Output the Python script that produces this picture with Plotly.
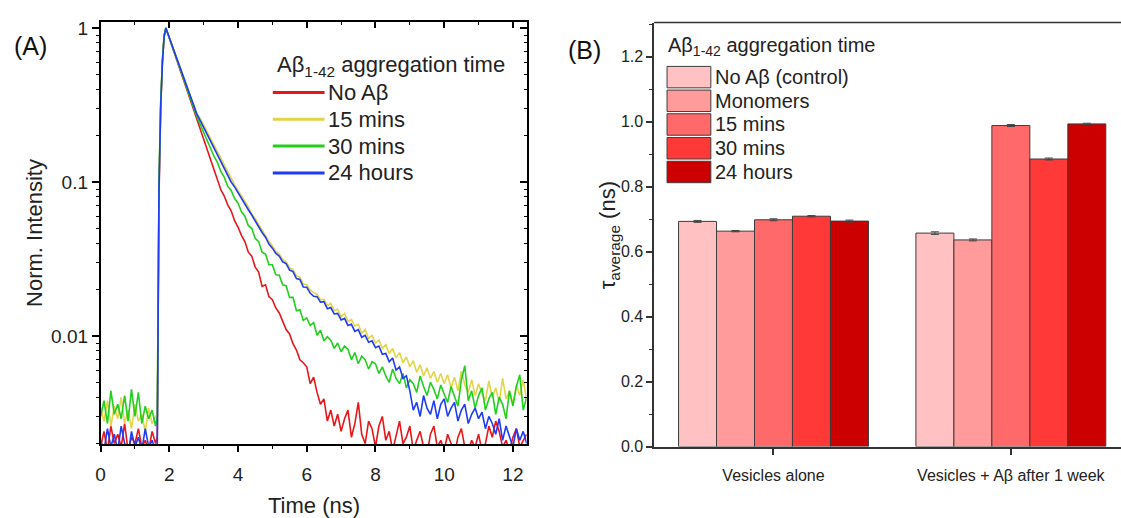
import plotly.graph_objects as go

W, H = 1121, 518

# ---------------- Panel A data ----------------
time_ns = [0.0, 0.1, 0.2, 0.3, 0.4, 0.5, 0.6, 0.7, 0.8, 0.9, 1.0, 1.1, 1.2, 1.3, 1.4, 1.5, 1.6,
           1.65, 1.7, 1.75, 1.8, 1.85, 1.9,
           2.0, 2.1, 2.2, 2.3, 2.4, 2.5, 2.6, 2.7, 2.8, 2.9,
           3.0, 3.1, 3.2, 3.3, 3.4, 3.5, 3.6, 3.7, 3.8, 3.9,
           4.0, 4.1, 4.2, 4.3, 4.4, 4.5, 4.6, 4.7, 4.8, 4.9,
           5.0, 5.1, 5.2, 5.3, 5.4, 5.5, 5.6, 5.7, 5.8, 5.9,
           6.0, 6.1, 6.2, 6.3, 6.4, 6.5, 6.6, 6.7, 6.8, 6.9,
           7.0, 7.1, 7.2, 7.3, 7.4, 7.5, 7.6, 7.7, 7.8, 7.9,
           8.0, 8.1, 8.2, 8.3, 8.4, 8.5, 8.6, 8.7, 8.8, 8.9,
           9.0, 9.1, 9.2, 9.3, 9.4, 9.5, 9.6, 9.7, 9.8, 9.9,
           10.0, 10.1, 10.2, 10.3, 10.4, 10.5, 10.6, 10.7, 10.8, 10.9,
           11.0, 11.1, 11.2, 11.3, 11.4, 11.5, 11.6, 11.7, 11.8, 11.9,
           12.0, 12.1, 12.2, 12.3, 12.4]

no_abeta = [0.0019, 0.0024, 0.0018, 0.0026, 0.0020, 0.0023, 0.0019, 0.0027, 0.0018, 0.0022, 0.0020, 0.0025, 0.0019, 0.0021, 0.0018, 0.0024, 0.0020,
            0.0022, 0.08, 0.3, 0.6, 0.88, 1.0,
            0.86, 0.74, 0.63, 0.545, 0.47, 0.40, 0.345, 0.295, 0.255, 0.22,
            0.188, 0.16, 0.14, 0.118, 0.103, 0.089, 0.081, 0.071, 0.065, 0.056,
            0.051, 0.045, 0.041, 0.035, 0.033, 0.028, 0.026, 0.021, 0.0215, 0.018,
            0.0172, 0.0152, 0.0141, 0.0126, 0.0110, 0.0103, 0.0089, 0.0081, 0.0070, 0.0067,
            0.0063, 0.0049, 0.0054, 0.0043, 0.0036, 0.0039, 0.0028, 0.0033, 0.0026, 0.0031,
            0.0024, 0.0029, 0.0033, 0.0022, 0.0027, 0.0037, 0.0023, 0.0020, 0.0028, 0.0025,
            0.0019, 0.0026, 0.0030, 0.0021, 0.0024, 0.0018, 0.0023, 0.0028, 0.0020, 0.0022,
            0.0026, 0.0018, 0.0021, 0.0024, 0.0019, 0.0017, 0.0023, 0.0026, 0.0019, 0.0021,
            0.0018, 0.0023, 0.0020, 0.0017, 0.0022, 0.0025, 0.0019, 0.0018, 0.0021, 0.0019,
            0.0023, 0.0018, 0.0020, 0.0026, 0.0022, 0.0028, 0.0024, 0.0019, 0.0021, 0.0018,
            0.0022, 0.0025, 0.0019, 0.0021, 0.0023]

mins_15 = [0.0034, 0.0028, 0.0038, 0.0026, 0.0035, 0.0029, 0.0040, 0.0027, 0.0033, 0.0025, 0.0036, 0.0028, 0.0031, 0.0024, 0.0034, 0.0027, 0.0030,
           0.0031, 0.1, 0.33, 0.62, 0.9, 1.0,
           0.865, 0.75, 0.65, 0.565, 0.49, 0.425, 0.368, 0.32, 0.278, 0.259,
           0.234, 0.211, 0.191, 0.173, 0.156, 0.141, 0.127, 0.115, 0.104, 0.096,
           0.088, 0.081, 0.074, 0.069, 0.062, 0.058, 0.053, 0.049, 0.045, 0.041,
           0.0385, 0.0355, 0.0340, 0.0314, 0.0303, 0.0278, 0.0270, 0.0246, 0.0240, 0.0217,
           0.0215, 0.0199, 0.0191, 0.0186, 0.0172, 0.0173, 0.0158, 0.0163, 0.0146, 0.0149,
           0.0133, 0.0140, 0.0124, 0.0128, 0.0116, 0.0119, 0.0104, 0.0110, 0.0096, 0.0101,
           0.0090, 0.0094, 0.0083, 0.0088, 0.0077, 0.0083, 0.0072, 0.0078, 0.0067, 0.0073,
           0.0063, 0.0069, 0.0058, 0.0065, 0.0055, 0.0062, 0.0053, 0.0059, 0.0050, 0.0057,
           0.0049, 0.0056, 0.0046, 0.0054, 0.0044, 0.0059, 0.0048, 0.0043, 0.0052, 0.0041,
           0.0049, 0.0042, 0.0038, 0.0051, 0.0040, 0.0046, 0.0037, 0.0053, 0.0039, 0.0044,
           0.0036, 0.0048, 0.0041, 0.0052, 0.0038]

mins_30 = [0.0030, 0.0038, 0.0027, 0.0044, 0.0031, 0.0036, 0.0029, 0.0041, 0.0028, 0.0045, 0.0030, 0.0043, 0.0027, 0.0035, 0.0029, 0.0033, 0.0026,
           0.0030, 0.1, 0.33, 0.62, 0.9, 1.0,
           0.86, 0.745, 0.64, 0.555, 0.48, 0.41, 0.356, 0.307, 0.266, 0.236,
           0.211, 0.186, 0.168, 0.147, 0.134, 0.117, 0.107, 0.094, 0.088, 0.078,
           0.073, 0.064, 0.060, 0.052, 0.050, 0.043, 0.041, 0.035, 0.034, 0.029,
           0.029, 0.025, 0.0248, 0.0215, 0.0212, 0.0178, 0.0178, 0.0146, 0.0148, 0.0126,
           0.0131, 0.0117, 0.0122, 0.0101, 0.0109, 0.0093, 0.0099, 0.0094, 0.0083, 0.0090,
           0.0079, 0.0086, 0.0082, 0.0070, 0.0078, 0.0066, 0.0074, 0.0070, 0.0061, 0.0068,
           0.0066, 0.0057, 0.0063, 0.0055, 0.0050, 0.0061, 0.0053, 0.0049, 0.0057, 0.0046,
           0.0052, 0.0049, 0.0043, 0.0055, 0.0047, 0.0041, 0.0050, 0.0045, 0.0039, 0.0048,
           0.0042, 0.0037, 0.0047, 0.0041, 0.0035, 0.0052, 0.0064, 0.0038, 0.0044, 0.0034,
           0.0041, 0.0046, 0.0033, 0.0039, 0.0043, 0.0031, 0.0040, 0.0036, 0.0029, 0.0044,
           0.0035, 0.0047, 0.0056, 0.0033, 0.0040]

hours_24 = [0.0021, 0.0018, 0.0025, 0.0019, 0.0023, 0.0018, 0.0026, 0.0020, 0.0017, 0.0024, 0.0019, 0.0022, 0.0018, 0.0025, 0.0019, 0.0021, 0.0018,
            0.0020, 0.09, 0.31, 0.6, 0.88, 1.0,
            0.867, 0.752, 0.652, 0.565, 0.49, 0.425, 0.368, 0.319, 0.277, 0.25,
            0.226, 0.204, 0.185, 0.167, 0.151, 0.136, 0.123, 0.111, 0.100, 0.093,
            0.085, 0.078, 0.072, 0.066, 0.061, 0.0555, 0.0515, 0.047, 0.0438, 0.0395,
            0.0372, 0.0344, 0.0330, 0.0303, 0.0295, 0.0268, 0.0262, 0.0236, 0.0233, 0.0208,
            0.0207, 0.0190, 0.0181, 0.0180, 0.0166, 0.0167, 0.0150, 0.0153, 0.0139, 0.0140,
            0.0127, 0.0130, 0.0117, 0.0119, 0.0107, 0.0110, 0.0098, 0.0101, 0.0091, 0.0093,
            0.0084, 0.0086, 0.0076, 0.0077, 0.0068, 0.0072, 0.0060, 0.0063, 0.0053, 0.0055,
            0.0044, 0.0033, 0.0037, 0.0030, 0.0041, 0.0034, 0.0031, 0.0038, 0.0029, 0.0036,
            0.0039, 0.0030, 0.0034, 0.0037, 0.0028, 0.0033, 0.0036, 0.0027, 0.0031, 0.0034,
            0.0029, 0.0032, 0.0025, 0.0030, 0.0027, 0.0023, 0.0029, 0.0021, 0.0026, 0.0022,
            0.0019, 0.0025, 0.0021, 0.0024, 0.0020]

decay_names = ["No Aβ", "15 mins", "30 mins", "24 hours"]
decay_colors = ["#E8161B", "#E2D548", "#22CF1E", "#1E3CF5"]

# ---------------- Panel B data ----------------
groups = ["Vesicles alone", "Vesicles + Aβ after 1 week"]
bar_names = ["No Aβ (control)", "Monomers", "15 mins", "30 mins", "24 hours"]
tau_no_abeta = [0.693, 0.657]
tau_monomers = [0.663, 0.636]
tau_15min = [0.698, 0.988]
tau_30min = [0.709, 0.885]
tau_24h = [0.694, 0.993]
err_no_abeta = [0.003, 0.004]
err_monomers = [0.002, 0.003]
err_15min = [0.003, 0.003]
err_30min = [0.002, 0.003]
err_24h = [0.003, 0.002]
bar_colors = ["#FFC1C1", "#FF9B9B", "#FF6969", "#FF3838", "#CC0000"]

FONT = "Liberation Sans, Arial, sans-serif"


def px(x):
    return x / W


def py(y):
    return 1 - y / H


fig = go.Figure()

for name, ys, c in zip(decay_names, [no_abeta, mins_15, mins_30, hours_24], decay_colors):
    fig.add_trace(go.Scatter(x=time_ns, y=ys, mode="lines", name=name,
                             line=dict(color=c, width=1.6), showlegend=False,
                             xaxis="x", yaxis="y"))

# invisible trace for mirrored (inward tick) axes
fig.add_trace(go.Scatter(x=[1], y=[0.5], mode="markers", marker=dict(opacity=0),
                         showlegend=False, hoverinfo="skip", xaxis="x3", yaxis="y3"))

bar_vals = [tau_no_abeta, tau_monomers, tau_15min, tau_30min, tau_24h]
bar_errs = [err_no_abeta, err_monomers, err_15min, err_30min, err_24h]
for name, vals, errs, c in zip(bar_names, bar_vals, bar_errs, bar_colors):
    fig.add_trace(go.Bar(x=groups, y=vals, name=name,
                         marker=dict(color=c, line=dict(color="#3c3c3c", width=1)),
                         error_y=dict(type="data", array=errs, color="#444444",
                                      thickness=1, width=4),
                         showlegend=False, xaxis="x2", yaxis="y2"))

xr = [0, 12.4]
yr = [-2.704, 0.04]
minor_log = [0.002, 0.003, 0.004, 0.005, 0.006, 0.007, 0.008, 0.009,
             0.02, 0.03, 0.04, 0.05, 0.06, 0.07, 0.08, 0.09,
             0.2, 0.3, 0.4, 0.5, 0.6, 0.7, 0.8, 0.9]

fig.update_layout(
    width=W, height=H,
    margin=dict(l=0, r=0, t=0, b=0),
    paper_bgcolor="white", plot_bgcolor="white",
    font=dict(family=FONT, color="#222222"),
    barmode="group", bargap=0.2, bargroupgap=0,
    xaxis=dict(domain=[px(96), px(524)], anchor="y", range=xr,
               showline=True, linecolor="black", linewidth=1.5,
               ticks="outside", ticklen=6, tickwidth=1.5, tickcolor="black",
               tick0=0, dtick=2, ticklabelstandoff=6,
               minor=dict(ticks="outside", ticklen=3, tickwidth=1.2, tickcolor="black", dtick=1, tick0=0),
               tickfont=dict(size=19, family=FONT, color="#222"),
               showgrid=False, zeroline=False),
    xaxis3=dict(overlaying="x", side="top", anchor="y3", range=xr,
                showline=True, linecolor="black", linewidth=1.5,
                ticks="inside", ticklen=6, tickwidth=1.5, tickcolor="black",
                tick0=0, dtick=2, showticklabels=False,
                minor=dict(ticks="inside", ticklen=3, tickwidth=1.2, tickcolor="black", dtick=1, tick0=0),
                showgrid=False, zeroline=False),
    yaxis=dict(domain=[py(451.7), py(18.3)], anchor="x", type="log", range=yr,
               showline=True, linecolor="black", linewidth=1.5,
               tickmode="array", tickvals=[0.01, 0.1, 1], ticktext=["0.01", "0.1", "1"],
               ticks="outside", ticklen=7, tickwidth=1.5, tickcolor="black",
               minor=dict(tickmode="array", tickvals=minor_log, ticks="outside",
                          ticklen=3, tickwidth=1.2, tickcolor="black"),
               tickfont=dict(size=19, family=FONT, color="#222"),
               showgrid=False, zeroline=False),
    yaxis3=dict(overlaying="y", side="right", anchor="x3", type="log", range=yr,
                showline=True, linecolor="black", linewidth=1.5,
                tickmode="array", tickvals=[0.01, 0.1, 1],
                ticks="inside", ticklen=7, tickwidth=1.5, tickcolor="black",
                minor=dict(tickmode="array", tickvals=minor_log, ticks="inside",
                           ticklen=3, tickwidth=1.2, tickcolor="black"),
                showticklabels=False, showgrid=False, zeroline=False),
    xaxis2=dict(domain=[px(652), 1.0], anchor="y2", range=[-0.503, 1.464],
                showline=True, linecolor="#333333", linewidth=1.5,
                ticks="outside", ticklen=7, tickwidth=1.5, tickcolor="#333333",
                ticklabelstandoff=6,
                tickfont=dict(size=16, family=FONT, color="#222"),
                showgrid=False, zeroline=False),
    yaxis2=dict(domain=[py(454), py(19)], anchor="x2", range=[0, 1.305],
                showline=True, linecolor="#333333", linewidth=1.5,
                tick0=0, dtick=0.2, tickformat=".1f",
                ticks="outside", ticklen=6, tickwidth=1.5, tickcolor="#333333",
                minor=dict(ticks="outside", ticklen=3, tickwidth=1.2, tickcolor="#333333", dtick=0.1, tick0=0),
                tickfont=dict(size=16, family=FONT, color="#222"),
                showgrid=False, zeroline=False),
)

shapes = []
annotations = []

# top frame line of panel B (right side is cut off by the image edge)
shapes.append(dict(type="line", xref="paper", yref="paper", x0=px(652), x1=1.0,
                   y0=py(19), y1=py(19), line=dict(color="#333333", width=1.5)))

# axis titles and panel labels
annotations.append(dict(text="Time (ns)", x=px(310), y=py(514), xref="paper", yref="paper",
                        showarrow=False, xanchor="center", yanchor="middle",
                        font=dict(size=22, family=FONT, color="#222")))
annotations.append(dict(text="Norm. Intensity", x=px(29), y=py(235), xref="paper", yref="paper",
                        textangle=-90, showarrow=False, xanchor="center", yanchor="middle",
                        font=dict(size=22, family=FONT, color="#222")))
annotations.append(dict(text="τ<sub>average</sub> (ns)", x=px(607), y=py(237), xref="paper", yref="paper",
                        textangle=-90, showarrow=False, xanchor="center", yanchor="middle",
                        font=dict(size=22, family=FONT, color="#222")))
annotations.append(dict(text="(A)", x=px(26), y=py(43), xref="paper", yref="paper",
                        showarrow=False, xanchor="center", yanchor="middle",
                        font=dict(size=25, family=FONT, color="#111")))
annotations.append(dict(text="(B)", x=px(582), y=py(47), xref="paper", yref="paper",
                        showarrow=False, xanchor="center", yanchor="middle",
                        font=dict(size=25, family=FONT, color="#111")))

# legend of panel A
annotations.append(dict(text="Aβ<sub>1-42</sub> aggregation time", x=px(271), y=py(64),
                        xref="paper", yref="paper", showarrow=False, xanchor="left", yanchor="middle",
                        font=dict(size=22, family=FONT, color="#222")))
leg_a_rows = [90.7, 118.3, 145.7, 173.3]
for name, c, yy in zip(decay_names, decay_colors, leg_a_rows):
    shapes.append(dict(type="line", xref="paper", yref="paper", x0=px(269), x1=px(321),
                       y0=py(yy), y1=py(yy), line=dict(color=c, width=3)))
    annotations.append(dict(text=name, x=px(322), y=py(yy), xref="paper", yref="paper",
                            showarrow=False, xanchor="left", yanchor="middle",
                            font=dict(size=22, family=FONT, color="#222")))

# legend of panel B
annotations.append(dict(text="Aβ<sub>1-42</sub> aggregation time", x=px(664), y=py(44),
                        xref="paper", yref="paper", showarrow=False, xanchor="left", yanchor="middle",
                        font=dict(size=20, family=FONT, color="#222")))
leg_b_rows = [75, 99.3, 123.6, 148, 172.3]
for name, c, yy in zip(bar_names, bar_colors, leg_b_rows):
    shapes.append(dict(type="rect", xref="paper", yref="paper", x0=px(665), x1=px(709),
                       y0=py(yy + 11), y1=py(yy - 11), fillcolor=c,
                       line=dict(color="#3c3c3c", width=1)))
    annotations.append(dict(text=name, x=px(711), y=py(yy), xref="paper", yref="paper",
                            showarrow=False, xanchor="left", yanchor="middle",
                            font=dict(size=20, family=FONT, color="#222")))

fig.update_layout(shapes=shapes, annotations=annotations)

fig.write_html("out.html")
